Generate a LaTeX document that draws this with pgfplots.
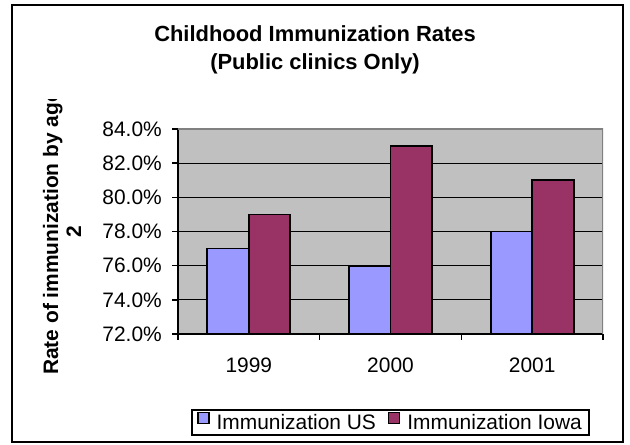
\documentclass[border=0pt]{standalone}
\usepackage{pgfplots}
\pgfplotsset{compat=1.18}
\usepackage{fontspec}
\setmainfont{Liberation Sans}
\definecolor{usblue}{HTML}{9999FF}
\definecolor{iowa}{HTML}{993366}
\definecolor{plotgray}{HTML}{C0C0C0}
\definecolor{bordergray}{HTML}{808080}
\begin{document}
\begin{tikzpicture}[x=1bp,y=1bp]
\path[use as bounding box] (0,0) rectangle (630,445);
\draw[line width=2bp] (12,3) rectangle (623,440);
\node[font=\bfseries\fontsize{22}{26}\selectfont, anchor=base] at (315,403) {Childhood Immunization Rates};
\node[font=\bfseries\fontsize{22}{26}\selectfont, anchor=base] at (315,375) {(Public clinics Only)};
\begin{scope}
\clip (0,0) rectangle (630,345);
\node[rotate=90, anchor=base west, inner sep=0pt, font=\bfseries\fontsize{21}{25}\selectfont] at (58,70) {Rate of immunization by age};
\end{scope}
\node[rotate=90, anchor=base, inner sep=0pt, font=\bfseries\fontsize{21}{25}\selectfont] at (81,213) {2};
\begin{axis}[
  at={(178bp,111bp)}, anchor=south west, scale only axis,
  width=425bp, height=205bp,
  xmin=0.5, xmax=3.5, ymin=72, ymax=84,
  ytick={72,74,...,84},
  yticklabel={\pgfmathprintnumber[fixed,fixed zerofill,precision=1]{\tick}\%},
  /pgf/number format/assume math mode=true,
  ymajorgrids, grid style={black, line width=1bp},
  xtick={0.5,1.5,2.5,3.5}, xticklabels={},
  extra x ticks={1,2,3}, extra x tick labels={1999,2000,2001},
  extra x tick style={major tick length=0pt},
  tick align=outside, major tick length=6bp, tick style={black, line width=1.5bp},
  axis x line*=bottom, axis y line*=left,
  axis line style={black, line width=2bp, -},
  axis background/.style={fill=plotgray},
  ticklabel style={font=\fontsize{21}{25}\selectfont},
  yticklabel style={inner sep=0pt, xshift=-10bp},
  xticklabel style={inner sep=0pt, yshift=-24bp},
  ybar=0pt, bar width=41.5bp,
  legend columns=2,
  legend style={at={(axis description cs:0.5,-0.4317)}, anchor=center,
    draw=black, line width=1.5bp, font=\fontsize{21}{25}\selectfont,
    inner xsep=5bp,
    /tikz/every odd column/.append style={column sep=5bp},
    /tikz/every even column/.append style={column sep=10bp}},
]
\addplot[fill=usblue, draw=black, line width=1.7bp,
  legend image code/.code={\draw[fill=usblue, draw=black, line width=1.5bp] (0bp,-1bp) rectangle (11bp,10bp);}]
  coordinates {(1,77) (2,76) (3,78)};
\addplot[fill=iowa, draw=black, line width=1.7bp,
  legend image code/.code={\draw[fill=iowa, draw=black, line width=1.5bp] (0bp,-1bp) rectangle (11bp,10bp);}]
  coordinates {(1,79) (2,83) (3,81)};
\legend{Immunization US, Immunization Iowa}
\draw[bordergray, line width=2bp] (rel axis cs:0,1) -- (rel axis cs:1,1) -- (rel axis cs:1,0);
\end{axis}
\end{tikzpicture}
\end{document}
